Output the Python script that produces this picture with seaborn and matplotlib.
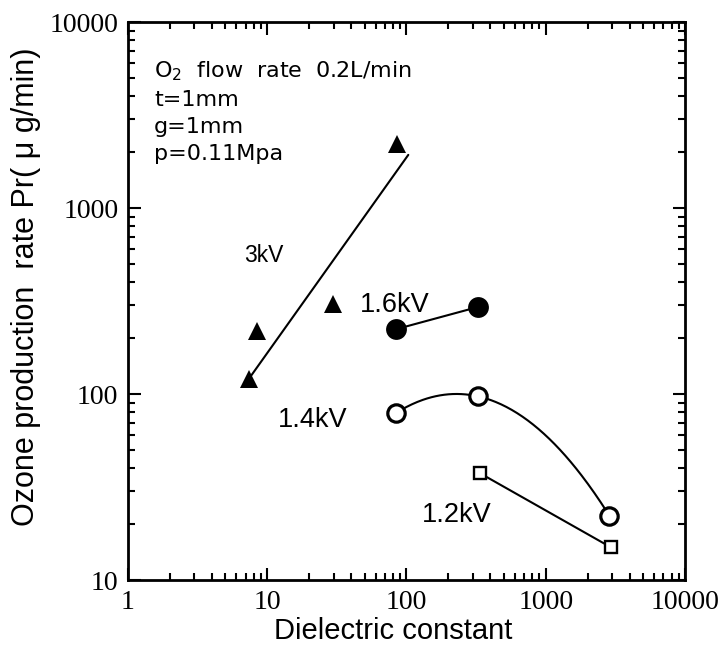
import numpy as np
import pandas as pd
import matplotlib
matplotlib.use("Agg")
import matplotlib.pyplot as plt
import seaborn as sns
from matplotlib.ticker import LogLocator, FixedLocator, FixedFormatter, NullFormatter

# ---------------- data ----------------
tri_x = [7.4, 8.4, 29.8, 86]          # 3 kV
tri_y = [121, 219, 303, 2216]
fit3_x = [7.4, 103]                   # 3 kV trend line
fit3_y = [121, 1930]
v16_x = [84, 328]                     # 1.6 kV
v16_y = [223, 294]
v14_x = [84, 328, 2860]               # 1.4 kV
v14_y = [79, 97, 22.2]
v12_x = [337, 2930]                   # 1.2 kV
v12_y = [37.5, 15.0]

xticks = [1, 10, 100, 1000, 10000]
xtick_labels = ["1", "10", "100", "1000", "10000"]
yticks = [10, 100, 1000, 10000]
ytick_labels = ["10", "100", "1000", "10000"]

info_lines = ["O$_\\mathrm{2}$  flow  rate  0.2L/min", "t=1mm", "g=1mm", "p=0.11Mpa"]
series_labels = ["3kV", "1.6kV", "1.4kV", "1.2kV"]
xlabel = "Dielectric constant"
ylabel = "Ozone production  rate Pr( \u03bc g/min)"

# ---------------- style ----------------
sns.set_style("ticks")
plt.rcParams["font.family"] = ["Liberation Sans", "DejaVu Sans"]
plt.rcParams["mathtext.fontset"] = "dejavusans"

W, H = 725, 650
fig = plt.figure(figsize=(W / 100, H / 100), dpi=100)
L, R, T, B = 128, 685, 22, 580
ax = fig.add_axes([L / W, 1 - B / H, (R - L) / W, (B - T) / H])
ax.set_xscale("log")
ax.set_yscale("log")
ax.set_xlim(1, 10000)
ax.set_ylim(10, 10000)

k = "black"
lw = 1.5

# 3 kV: trend line + triangles
sns.lineplot(x=fit3_x, y=fit3_y, color=k, lw=lw, sort=False, ax=ax, legend=False)
sns.lineplot(x=tri_x, y=tri_y, color=k, marker="^", markersize=13.5, markeredgewidth=0,
             linestyle="none", sort=False, ax=ax, legend=False)

# 1.6 kV: filled circles
sns.lineplot(x=v16_x, y=v16_y, color=k, lw=lw, marker="o", markersize=15,
             markeredgewidth=0, sort=False, ax=ax, legend=False)

# 1.4 kV: smooth curve through open circles (quadratic in log-log space)
lx, ly = np.log10(v14_x), np.log10(v14_y)
coef = np.polyfit(lx, ly, 2)
xs = np.linspace(lx.min(), lx.max(), 200)
sns.lineplot(x=10 ** xs, y=10 ** np.polyval(coef, xs), color=k, lw=lw, sort=False,
             ax=ax, legend=False)
sns.lineplot(x=v14_x, y=v14_y, marker="o", markersize=12.5, markerfacecolor="white",
             markeredgecolor=k, markeredgewidth=2.3, linestyle="none", sort=False,
             ax=ax, legend=False)

# 1.2 kV: open squares
sns.lineplot(x=v12_x, y=v12_y, color=k, lw=lw, marker="s", markersize=9,
             markerfacecolor="white", markeredgecolor=k, markeredgewidth=1.7,
             sort=False, ax=ax, legend=False)

# ---------------- axes styling ----------------
for sp in ax.spines.values():
    sp.set_visible(True)
    sp.set_linewidth(2)
    sp.set_color(k)

ax.xaxis.set_major_locator(FixedLocator(xticks))
ax.xaxis.set_major_formatter(FixedFormatter(xtick_labels))
ax.yaxis.set_major_locator(FixedLocator(yticks))
ax.yaxis.set_major_formatter(FixedFormatter(ytick_labels))
ax.xaxis.set_minor_locator(LogLocator(base=10, subs=np.arange(2, 10), numticks=20))
ax.yaxis.set_minor_locator(LogLocator(base=10, subs=np.arange(2, 10), numticks=20))
ax.xaxis.set_minor_formatter(NullFormatter())
ax.yaxis.set_minor_formatter(NullFormatter())

ax.tick_params(which="both", direction="in", top=True, right=True, color=k)
ax.tick_params(which="major", length=9, width=1.5, labelsize=20,
               labelfontfamily="Liberation Serif", labelcolor=k)
ax.tick_params(which="minor", length=5, width=1.5)
ax.tick_params(axis="x", which="major", pad=7)
ax.tick_params(axis="y", which="major", pad=7)

ax.set_xlabel(xlabel, fontsize=21, color=k)
ax.set_ylabel(ylabel, fontsize=22, color=k)
ax.xaxis.set_label_coords((393 - L) / (R - L), (B - 617) / (B - T))
ax.yaxis.set_label_coords((41 - L) / (R - L), (B - 287) / (B - T))

# ---------------- annotations ----------------
def axpos(px, py):
    return (px - L) / (R - L), (B - py) / (B - T)

info_y = [77, 106.5, 133, 160]
for s, py in zip(info_lines, info_y):
    ax.text(*axpos(154, py), s, transform=ax.transAxes, fontsize=16,
            family="DejaVu Sans", ha="left", va="baseline", color=k)

label_pos = [(244, 262, 16.5), (360, 312, 19.5), (278, 427, 19.5), (422, 522, 19.5)]
for s, (px, py, fs) in zip(series_labels, label_pos):
    ax.text(*axpos(px, py), s, transform=ax.transAxes, fontsize=fs,
            ha="left", va="baseline", color=k)

fig.savefig("out.png", dpi=100)
